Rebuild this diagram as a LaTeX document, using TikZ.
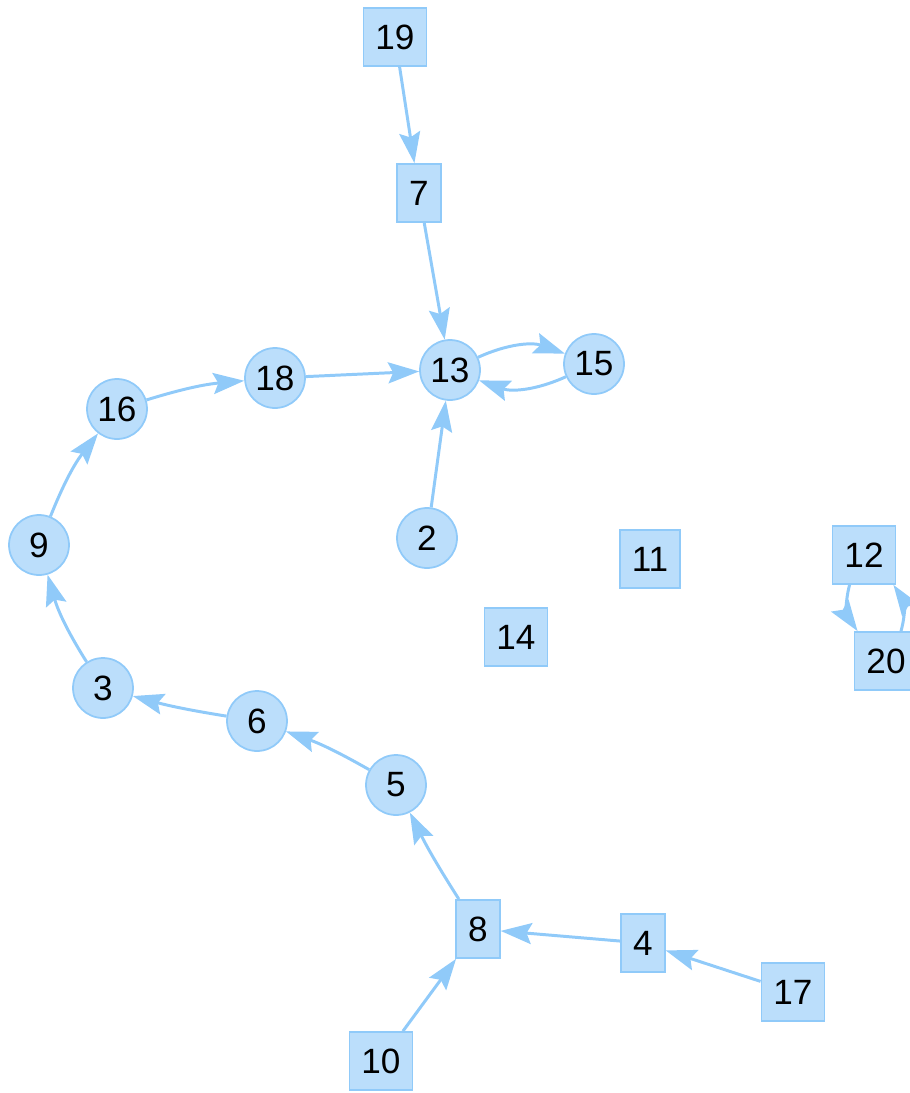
\documentclass[tikz,border=0pt]{standalone}
\usepackage{fontspec}
\setmainfont{Liberation Sans}
\usetikzlibrary{arrows.meta}
\definecolor{knotenfill}{HTML}{BBDEFB}
\definecolor{knotenrand}{HTML}{90CAF9}
\begin{document}
\begin{tikzpicture}[x=0.02cm, y=-0.02cm,
  knoten/.style={draw=knotenrand, fill=knotenfill, line width=1pt, text=black, font=\fontsize{20}{24}\selectfont},
  rund/.style={knoten, circle, minimum size=1.2cm, inner sep=0pt},
  kasten/.style={knoten, rectangle, minimum height=1.16cm, inner xsep=0.24cm, inner ysep=0pt},
  kante/.style={-{Stealth[length=0.62cm, width=0.42cm, inset=0.1cm]}, draw=knotenrand, line width=1.7pt}]
\useasboundingbox (0,0) rectangle (910,1093);
% Kreis-Knoten
\node[rund] (n13) at (450,370) {13};
\node[rund] (n15) at (594,364) {15};
\node[rund] (n18) at (275,378) {18};
\node[rund] (n16) at (117,409) {16};
\node[rund] (n9)  at (39,545)  {9};
\node[rund] (n3)  at (103,688) {3};
\node[rund] (n6)  at (257,721) {6};
\node[rund] (n5)  at (396,785) {5};
\node[rund] (n2)  at (427,538) {2};
% Kasten-Knoten
\node[kasten] (n19) at (395,37)   {19};
\node[kasten] (n7)  at (419,193)  {7};
\node[kasten] (n8)  at (478,929)  {8};
\node[kasten] (n10) at (381,1061) {10};
\node[kasten] (n4)  at (643,943)  {4};
\node[kasten] (n17) at (793,992)  {17};
\node[kasten] (n11) at (650,559)  {11};
\node[kasten] (n14) at (516,637)  {14};
\node[kasten] (n12) at (864,555)  {12};
\node[kasten] (n20) at (886,661)  {20};
% Kanten oben
\draw[kante] (n19) -- (n7);
\draw[kante] (n7) -- (n13);
\draw[kante] (n18) -- (n13);
\draw[kante] (n2) -- (n13);
\draw[kante] (n13) to[bend left=22] (n15);
\draw[kante] (n15) to[bend left=22] (n13);
% Kette links
\draw[kante] (n16) to[bend left=6] (n18);
\draw[kante] (n9) to[bend left=8] (n16);
\draw[kante] (n3) to[bend left=8] (n9);
\draw[kante] (n6) to[bend left=3] (n3);
\draw[kante] (n5) to[bend right=5] (n6);
\draw[kante] (n8) to[bend left=3] (n5);
% Kanten unten
\draw[kante] (n4) -- (n8);
\draw[kante] (n17) -- (n4);
\draw[kante] (n10) -- (n8);
% 12 <-> 20
\draw[kante] ([xshift=0.36cm]n12.south west) to[bend right=25] ([xshift=0.08cm]n20.north west);
\draw[kante] ([xshift=0.3cm]n20.north) to[bend right=25] ([xshift=-0.06cm]n12.south east);
\end{tikzpicture}
\end{document}
